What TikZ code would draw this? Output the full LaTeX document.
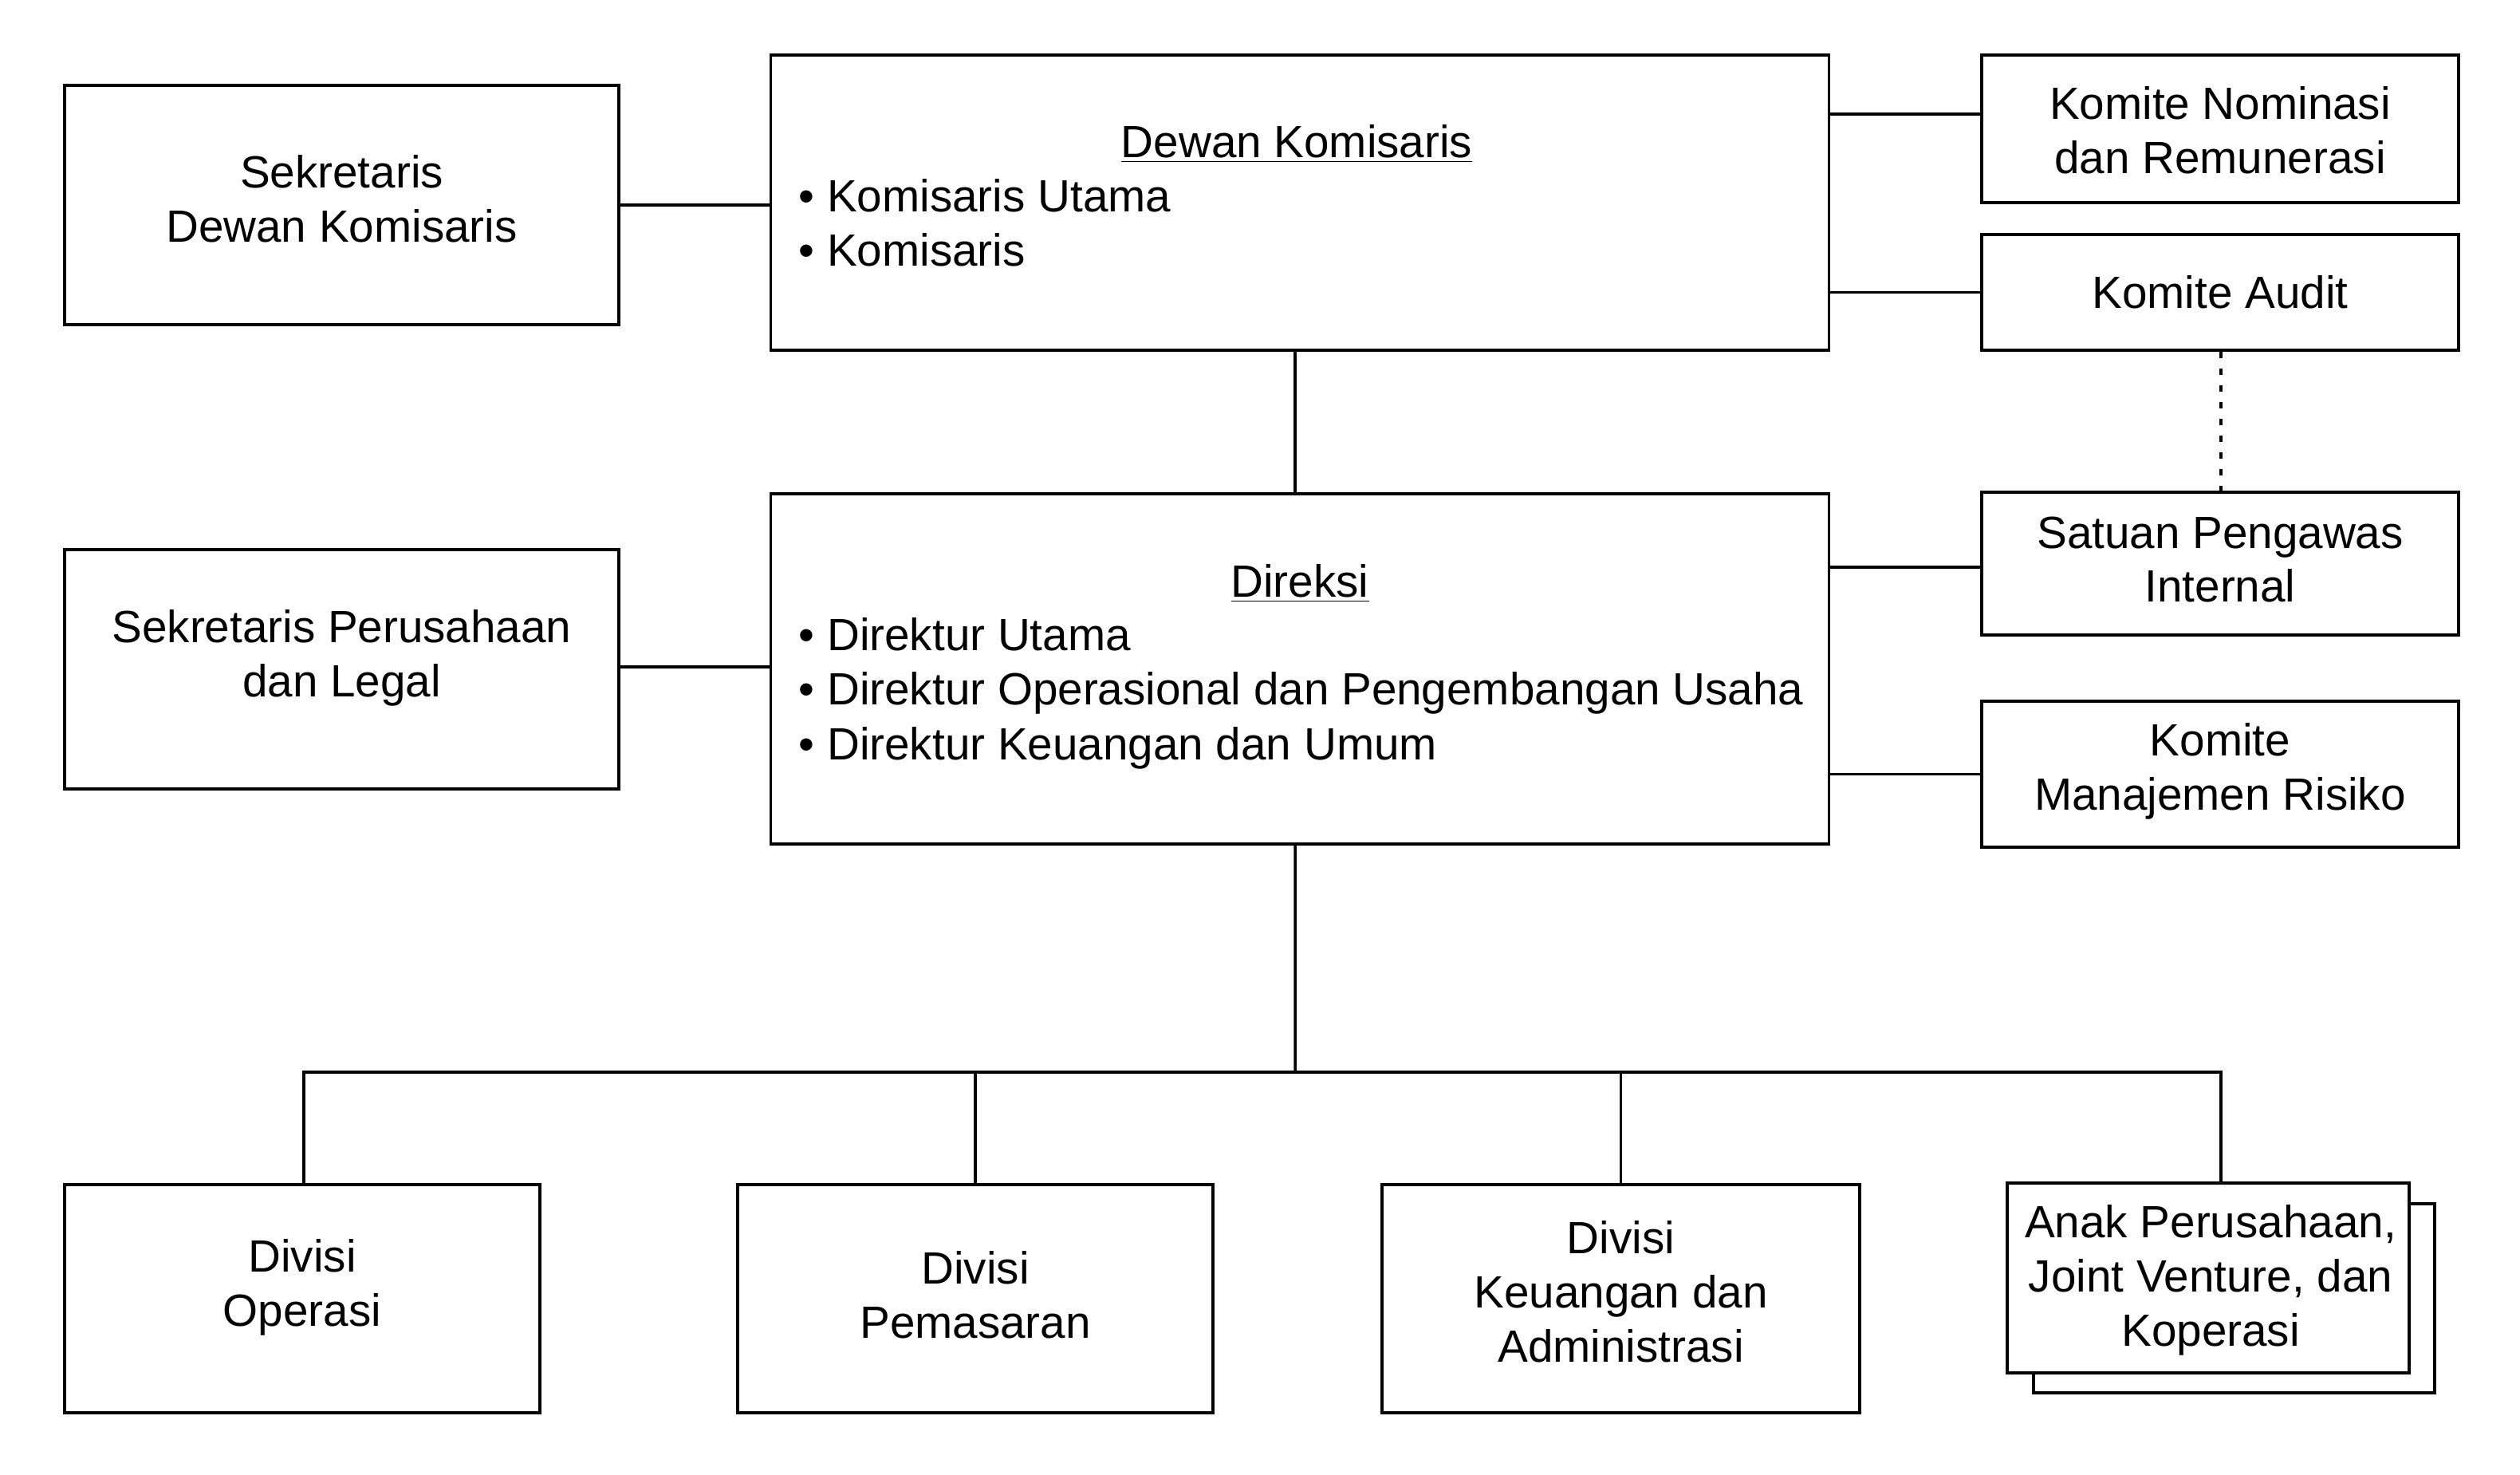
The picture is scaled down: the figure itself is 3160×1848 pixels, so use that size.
\documentclass[tikz,border=0pt]{standalone}
\usepackage{fontspec}
\setmainfont{Liberation Sans}
\newcommand{\orgfont}{\fontsize{16.1pt}{19.3pt}\selectfont}
\begin{document}
\begin{tikzpicture}[x=0.01cm,y=-0.01cm,
  box/.style={draw, line width=1pt, inner sep=0pt, fill=white},
  conn/.style={line width=1pt},
  dotline/.style={line width=1.2pt, dash pattern=on 0.08cm off 0.13cm},
  txt/.style={inner sep=0pt, font=\orgfont, align=center}]
\useasboundingbox (0,0) rectangle (3160,1848);
\fill[white] (0,0) rectangle (3160,1848);

% top row
\node[box, minimum width=6.95cm, minimum height=3.00cm] (sdk) at (428.5,257) {};
\node[txt] (sdkt) at ([yshift=0.08cm]sdk.center) {Sekretaris\\Dewan Komisaris};
\node[box, minimum width=13.26cm, minimum height=3.70cm] (dk) at (1630,254) {};
\node[txt, anchor=base] (dkt) at (1626,197) {\underline{Dewan Komisaris}};
\node[txt, anchor=base west] (dk1) at (1001,265) {• Komisaris Utama};
\node[txt, anchor=base west] (dk2) at (1001,333) {• Komisaris};

\node[box, minimum width=5.98cm, minimum height=1.85cm] (kn) at (2784,161.5) {};
\node[txt] (knt) at ([yshift=-0.02cm]kn.center) {Komite Nominasi\\dan Remunerasi};
\node[box, minimum width=5.98cm, minimum height=1.45cm] (ka) at (2784,366.5) {};
\node[txt] (kat) at (ka.center) {Komite Audit};
\node[box, minimum width=5.98cm, minimum height=1.79cm] (spi) at (2784,706.5) {};
\node[txt] (spit) at ([yshift=0.05cm]spi.center) {Satuan Pengawas\\Internal};
\node[box, minimum width=5.98cm, minimum height=1.83cm] (kmr) at (2784,970.5) {};
\node[txt] (kmrt) at ([yshift=0.04cm]kmr.center) {Komite\\Manajemen Risiko};

% Direksi
\node[box, minimum width=13.26cm, minimum height=4.39cm] (dir) at (1630,838.5) {};
\node[txt, anchor=base] (dirt) at (1630,748) {\underline{Direksi}};
\node[txt, anchor=base west] (dir1) at (1001,815) {• Direktur Utama};
\node[txt, anchor=base west] (dir2) at (1001,883) {• Direktur Operasional dan Pengembangan Usaha};
\node[txt, anchor=base west] (dir3) at (1001,952) {• Direktur Keuangan dan Umum};

\node[box, minimum width=6.95cm, minimum height=3.00cm] (spl) at (428.5,839) {};
\node[txt] (splt) at ([yshift=0.14cm]spl.center) {Sekretaris Perusahaan\\dan Legal};

% bottom row
\node[box, minimum width=5.96cm, minimum height=2.86cm] (dop) at (379,1628) {};
\node[txt] (dopt) at ([yshift=0.14cm]dop.center) {Divisi\\Operasi};
\node[box, minimum width=5.96cm, minimum height=2.86cm] (dpm) at (1223,1628) {};
\node[txt] (dpmt) at ([yshift=0.05cm]dpm.center) {Divisi\\Pemasaran};
\node[box, minimum width=5.99cm, minimum height=2.86cm] (dku) at (2032.5,1628) {};
\node[txt] (dkut) at ([yshift=0.09cm]dku.center) {Divisi\\Keuangan dan\\Administrasi};
\node[box, minimum width=5.03cm, minimum height=2.37cm] (anakb) at (2801.5,1627.5) {};
\node[box, minimum width=5.04cm, minimum height=2.38cm] (anak) at (2769,1602) {};
\node[txt] (anakt) at ([yshift=-0.03cm,xshift=0.03cm]anak.center) {Anak Perusahaan,\\Joint Venture, dan\\Koperasi};

% connectors
\draw[conn] (sdk.east) -- (sdk.east -| dk.west);
\draw[conn] ([yshift=0.185cm]kn.west) -- ([yshift=0.185cm]kn.west -| dk.east);
\draw[conn] (ka.west) -- (ka.west -| dk.east);
\draw[dotline] ([xshift=0.01cm]ka.south) -- ([xshift=0.01cm]spi.north);
\draw[conn] ([xshift=-0.06cm]dk.south) -- ([xshift=-0.06cm]dir.north);
\draw[conn] ([yshift=-0.045cm]spi.west) -- ([yshift=-0.045cm]spi.west -| dir.east);
\draw[conn] (kmr.west) -- (kmr.west -| dir.east);
\draw[conn] ([yshift=0.03cm]spl.east) -- ([yshift=0.03cm]spl.east -| dir.west);

\coordinate (bus) at (1624,1344);
\coordinate (ak) at ([xshift=0.16cm]anak.north);
\draw[conn] ([xshift=-0.06cm]dir.south) -- (bus);
\draw[conn] ([xshift=0.02cm]dop.north) |- (bus) -| (ak);
\draw[conn] (dpm.north) -- (dpm.north |- bus);
\draw[conn] (dku.north) -- (dku.north |- bus);
\end{tikzpicture}
\end{document}
